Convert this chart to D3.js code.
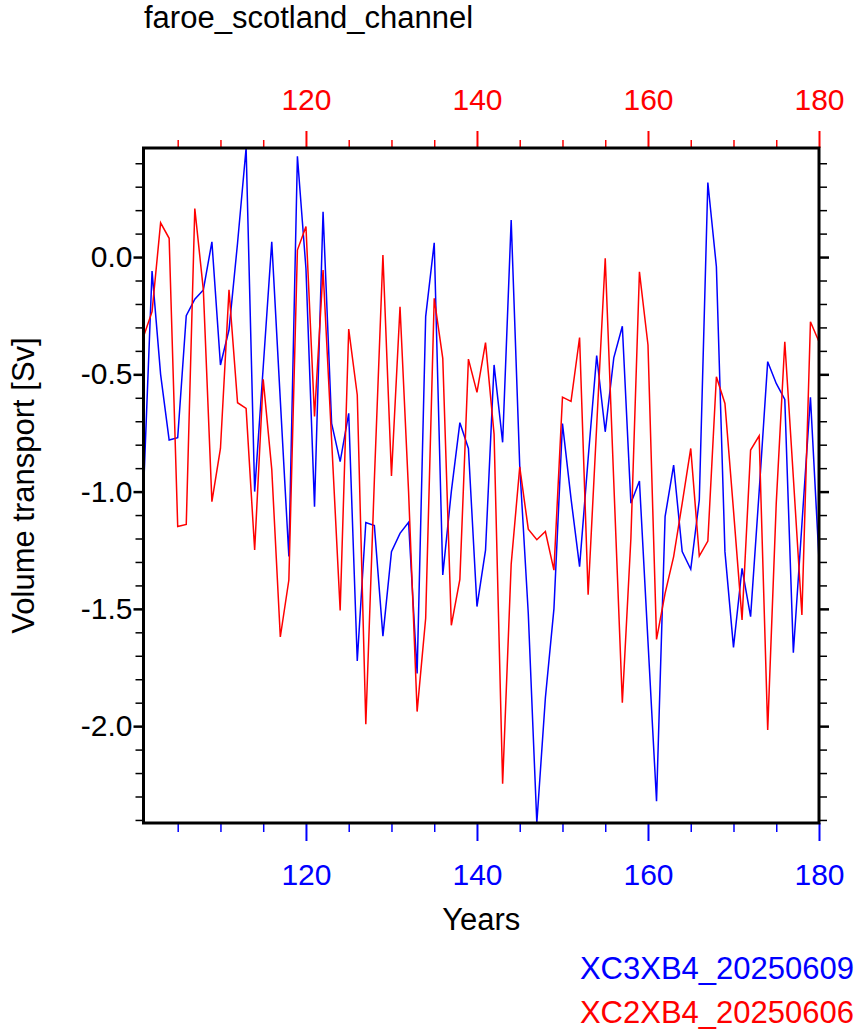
<!DOCTYPE html>
<html>
<head>
<meta charset="utf-8">
<script src="https://cdn.jsdelivr.net/npm/d3@7"></script>
<style>
  body { margin: 0; background: #fff; }
  #chart text { font-family: "Liberation Sans", Arial, Helvetica, sans-serif; }
</style>
</head>
<body>
<div id="chart"></div>
<script>
// Years on the x axis (one value per model year).
const years = d3.range(101, 181);

// Volume transport [Sv] read from the two model runs.
const seriesNames = ['XC3XB4_20250609', 'XC2XB4_20250606'];
const seriesColors = ['#0000ff', '#ff0000'];

const xc3xb4 = [
  -1.00, -0.06, -0.50, -0.78, -0.77, -0.25, -0.18, -0.14, 0.065, -0.46,
  -0.31, 0.06, 0.465, -1.00, -0.47, 0.065, -0.61, -1.277, 0.43, -0.05,
  -1.064, 0.193, -0.709, -0.872, -0.666, -1.722, -1.132, -1.145, -1.616, -1.256,
  -1.178, -1.131, -1.775, -0.254, 0.061, -1.355, -1.00, -0.706, -0.816, -1.49,
  -1.25, -0.46, -0.79, 0.158, -0.89, -1.52, -2.413, -1.88, -1.50, -0.71,
  -1.03, -1.32, -0.86, -0.42, -0.745, -0.43, -0.295, -1.05, -0.955, -1.64,
  -2.32, -1.107, -0.887, -1.256, -1.331, -1.036, 0.318, -0.041, -1.256, -1.664,
  -1.327, -1.533, -1.00, -0.446, -0.539, -0.607, -1.687, -1.14, -0.598, -1.29
];

const xc2xb4 = [
  -0.34, -0.233, 0.146, 0.08, -1.149, -1.14, 0.207, -0.14, -1.043, -0.816,
  -0.14, -0.621, -0.645, -1.249, -0.521, -0.905, -1.62, -1.377, 0.03, 0.13,
  -0.68, -0.055, -0.78, -1.507, -0.307, -0.588, -1.992, -0.95, 0.009, -0.933,
  -0.212, -1.00, -1.938, -1.54, -0.176, -0.432, -1.57, -1.374, -0.435, -0.577,
  -0.365, -0.755, -2.246, -1.31, -0.895, -1.16, -1.205, -1.17, -1.335, -0.597,
  -0.615, -0.343, -1.44, -0.72, -0.005, -0.96, -1.90, -1.20, -0.063, -0.375,
  -1.63, -1.434, -1.277, -1.05, -0.816, -1.275, -1.211, -0.51, -0.624, -1.08,
  -1.547, -0.823, -0.762, -2.016, -1.05, -0.361, -0.94, -1.526, -0.276, -0.361
];

// Tick values for both axes.
const xMajorTicks = [120, 140, 160, 180];
const xMinorTicks = d3.range(105, 181, 5).filter(d => !xMajorTicks.includes(d));
const yMajorTicks = [-2.0, -1.5, -1.0, -0.5, 0.0];
const yMinorTicks = d3.range(-24, 5).map(d => d / 10).filter(d => Math.round(d * 10) % 5 !== 0);

render();

function render() {
  let width = 858,
      height = 1035;

  let plot = {left: 143.5, right: 819, top: 148, bottom: 823};

  let svg = d3.select('#chart')
              .append('svg')
              .attr('width', width)
              .attr('height', height);

  let x = d3.scaleLinear()
            .domain(d3.extent(years))
            .range([plot.left, plot.right]);

  // NCL style: y range fits the data exactly.
  let allValues = xc3xb4.concat(xc2xb4);
  let y = d3.scaleLinear()
            .domain(d3.extent(allValues))
            .range([plot.bottom, plot.top]);

  let fontSize = 30;

  // Title top left.
  svg.append('text')
     .attr('x', 144)
     .attr('y', 28)
     .attr('font-size', 31)
     .text('faroe_scotland_channel');

  // Minor and major ticks, all pointing outward.
  function styleAxis(g, color, width) {
    g.select('.domain').remove();
    g.selectAll('.tick line').attr('stroke', color).attr('stroke-width', width);
    g.selectAll('.tick text').attr('fill', color).attr('font-size', fontSize);
  }

  // Bottom axis (blue).
  svg.append('g')
     .attr('transform', `translate(0, ${plot.bottom})`)
     .call(d3.axisBottom(x).tickValues(xMinorTicks).tickSize(9).tickFormat(''))
     .call(g => styleAxis(g, '#0000ff', 1.5));

  svg.append('g')
     .attr('transform', `translate(0, ${plot.bottom})`)
     .call(d3.axisBottom(x).tickValues(xMajorTicks).tickSize(18).tickPadding(23).tickFormat(d3.format('d')))
     .call(g => styleAxis(g, '#0000ff', 2));

  // Top axis (red).
  svg.append('g')
     .attr('transform', `translate(0, ${plot.top})`)
     .call(d3.axisTop(x).tickValues(xMinorTicks).tickSize(8).tickFormat(''))
     .call(g => styleAxis(g, '#ff0000', 1.5));

  svg.append('g')
     .attr('transform', `translate(0, ${plot.top})`)
     .call(d3.axisTop(x).tickValues(xMajorTicks).tickSize(17).tickPadding(21).tickFormat(d3.format('d')))
     .call(g => styleAxis(g, '#ff0000', 2));

  // Left axis (black, labelled).
  svg.append('g')
     .attr('transform', `translate(${plot.left}, 0)`)
     .call(d3.axisLeft(y).tickValues(yMinorTicks).tickSize(8).tickFormat(''))
     .call(g => styleAxis(g, '#000', 1.5));

  svg.append('g')
     .attr('transform', `translate(${plot.left}, 0)`)
     .call(d3.axisLeft(y).tickValues(yMajorTicks).tickSize(10).tickPadding(1).tickFormat(d => d.toFixed(1)))
     .call(g => styleAxis(g, '#000', 2.5));

  // Right axis (ticks only).
  svg.append('g')
     .attr('transform', `translate(${plot.right}, 0)`)
     .call(d3.axisRight(y).tickValues(yMinorTicks).tickSize(8).tickFormat(''))
     .call(g => styleAxis(g, '#000', 1.5));

  svg.append('g')
     .attr('transform', `translate(${plot.right}, 0)`)
     .call(d3.axisRight(y).tickValues(yMajorTicks).tickSize(10).tickFormat(''))
     .call(g => styleAxis(g, '#000', 2.5));

  // Series lines.
  let line = d3.line()
               .x((d, i) => x(years[i]))
               .y(d => y(d));

  [xc3xb4, xc2xb4].forEach((values, i) => {
    svg.append('path')
       .datum(values)
       .attr('fill', 'none')
       .attr('stroke', seriesColors[i])
       .attr('stroke-width', 1.5)
       .attr('stroke-linejoin', 'miter')
       .attr('d', line);
  });

  // Plot frame.
  svg.append('rect')
     .attr('x', plot.left)
     .attr('y', plot.top)
     .attr('width', plot.right - plot.left)
     .attr('height', plot.bottom - plot.top)
     .attr('fill', 'none')
     .attr('stroke', '#000')
     .attr('stroke-width', 3);

  // Axis titles.
  svg.append('text')
     .attr('x', (plot.left + plot.right) / 2)
     .attr('y', 930)
     .attr('text-anchor', 'middle')
     .attr('font-size', 31)
     .text('Years');

  svg.append('text')
     .attr('transform', `translate(34, ${(plot.top + plot.bottom) / 2}) rotate(-90)`)
     .attr('text-anchor', 'middle')
     .attr('font-size', 31)
     .text('Volume transport [Sv]');

  // Legend, bottom right.
  seriesNames.forEach((name, i) => {
    svg.append('text')
       .attr('x', 854)
       .attr('y', 979 + i * 44)
       .attr('text-anchor', 'end')
       .attr('font-size', 31)
       .attr('fill', seriesColors[i])
       .text(name);
  });
}
</script>
</body>
</html>
